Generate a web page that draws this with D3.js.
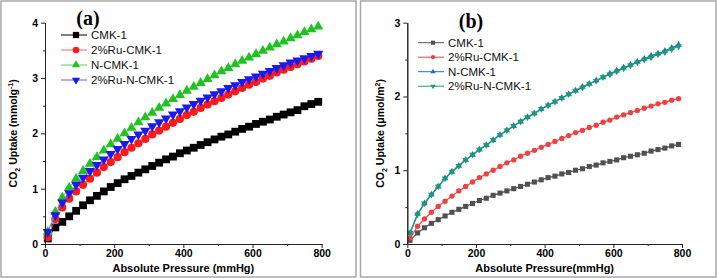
<!DOCTYPE html>
<html lang="en">
<head>
	<meta charset="UTF-8">
	<title>co2 uptake</title>
	<style>
		body { margin: 0; background: #fff; }
	</style>
</head>
<body>
	<svg id="cont" width="717" height="278" style="font-family: 'Liberation Sans', Arial, sans-serif"></svg>
</body>
<script src="https://cdn.jsdelivr.net/npm/d3@7"></script>
<script>
	// pressure points (mmHg), same for every series
	let pressure = [8, 30, 50, 70, 90, 110, 130, 150, 170, 190, 210, 230, 250, 270, 290, 310, 330, 350, 370, 390,
		410, 430, 450, 470, 490, 510, 530, 550, 570, 590, 610, 630, 650, 670, 690, 710, 730, 750, 770, 790];

	let names = ["CMK-1", "2%Ru-CMK-1", "N-CMK-1", "2%Ru-N-CMK-1"];

	// panel (a), mmol/g
	let cmkA = [0.10, 0.30, 0.40, 0.50, 0.60, 0.70, 0.79, 0.87, 0.95, 1.03, 1.10, 1.17, 1.23, 1.29, 1.35, 1.41, 1.47, 1.53, 1.58, 1.64,
		1.69, 1.74, 1.79, 1.84, 1.89, 1.94, 1.98, 2.03, 2.08, 2.12, 2.17, 2.21, 2.25, 2.30, 2.34, 2.38, 2.42, 2.49, 2.53, 2.57];
	let ruCmkA = [0.12, 0.45, 0.66, 0.82, 0.95, 1.07, 1.18, 1.29, 1.39, 1.48, 1.57, 1.66, 1.74, 1.82, 1.90, 1.98, 2.05, 2.12, 2.19, 2.26,
		2.33, 2.39, 2.46, 2.52, 2.58, 2.64, 2.70, 2.76, 2.82, 2.88, 2.93, 2.99, 3.04, 3.10, 3.15, 3.20, 3.25, 3.30, 3.35, 3.40];
	let nCmkA = [0.22, 0.58, 0.84, 1.02, 1.18, 1.32, 1.45, 1.57, 1.69, 1.80, 1.90, 2.00, 2.10, 2.20, 2.29, 2.37, 2.46, 2.54, 2.62, 2.69,
		2.77, 2.84, 2.91, 2.98, 3.05, 3.12, 3.18, 3.25, 3.31, 3.37, 3.43, 3.49, 3.55, 3.61, 3.66, 3.72, 3.77, 3.83, 3.88, 3.93];
	let ruNCmkA = [0.22, 0.52, 0.75, 0.92, 1.07, 1.20, 1.32, 1.43, 1.53, 1.63, 1.72, 1.81, 1.90, 1.98, 2.05, 2.13, 2.20, 2.27, 2.34, 2.40,
		2.47, 2.53, 2.59, 2.65, 2.71, 2.76, 2.82, 2.87, 2.93, 2.98, 3.03, 3.08, 3.13, 3.18, 3.23, 3.28, 3.32, 3.36, 3.40, 3.44];

	// panel (b), umol/m2
	let cmkB = [0.05, 0.15, 0.22, 0.28, 0.33, 0.38, 0.43, 0.47, 0.51, 0.55, 0.59, 0.62, 0.66, 0.69, 0.72, 0.75, 0.78, 0.81, 0.84, 0.87,
		0.90, 0.92, 0.95, 0.97, 1.00, 1.02, 1.05, 1.07, 1.10, 1.12, 1.14, 1.17, 1.19, 1.21, 1.23, 1.26, 1.28, 1.30, 1.33, 1.35];
	let ruCmkB = [0.08, 0.24, 0.34, 0.43, 0.51, 0.58, 0.65, 0.72, 0.78, 0.84, 0.90, 0.95, 1.00, 1.05, 1.10, 1.14, 1.19, 1.23, 1.27, 1.31,
		1.35, 1.39, 1.43, 1.47, 1.51, 1.54, 1.58, 1.61, 1.65, 1.68, 1.72, 1.75, 1.78, 1.81, 1.84, 1.87, 1.90, 1.92, 1.95, 1.97];
	let nCmkB = [0.15, 0.41, 0.55, 0.67, 0.78, 0.89, 0.98, 1.06, 1.14, 1.21, 1.28, 1.34, 1.41, 1.48, 1.54, 1.60, 1.66, 1.72, 1.77, 1.83,
		1.88, 1.93, 1.98, 2.03, 2.08, 2.13, 2.17, 2.22, 2.26, 2.31, 2.35, 2.39, 2.43, 2.47, 2.51, 2.55, 2.58, 2.62, 2.66, 2.70];
	let ruNCmkB = [0.15, 0.40, 0.55, 0.67, 0.78, 0.89, 0.98, 1.06, 1.14, 1.21, 1.28, 1.34, 1.41, 1.48, 1.54, 1.60, 1.66, 1.72, 1.77, 1.83,
		1.88, 1.93, 1.98, 2.03, 2.08, 2.12, 2.17, 2.21, 2.26, 2.30, 2.34, 2.38, 2.42, 2.46, 2.50, 2.53, 2.57, 2.60, 2.64, 2.68];

	let xTicks = [0, 200, 400, 600, 800];
	let yTicksA = [0, 1, 2, 3, 4];
	let yTicksB = [0, 1, 2, 3];

	let svg = d3.select("#cont");

	// grey frames round each panel
	svg.append("rect").attr("x", 1).attr("y", 1).attr("width", 355).attr("height", 276)
		.attr("fill", "none").attr("stroke", "#a8a8a8").attr("stroke-width", 1.5);
	svg.append("rect").attr("x", 360.5).attr("y", 1).attr("width", 355.5).attr("height", 276)
		.attr("fill", "none").attr("stroke", "#a8a8a8").attr("stroke-width", 1.5);

	drawPanel({
		left: 45, right: 321.7, top: 22.7, bottom: 244,
		ymax: 4, yticks: yTicksA,
		series: [cmkA, ruCmkA, nCmkA, ruNCmkA],
		colors: ["#000000", "#ff1a1a", "#1fc21f", "#1a1aee"],
		lineColors: ["#000000", "#ff6060", "#60d060", "#6060ff"],
		shapes: ["square", "circle", "up", "down"],
		msize: 1.15, lineW: 0.8,
		label: "(a)", labelX: 88, labelY: 25,
		legX: 61, legY: 35, legStep: 15,
		xTitle: "Absolute Pressure (mmHg)", titleX: 17,
		unit: "a"
	});
	drawPanel({
		left: 407.3, right: 682, top: 22.7, bottom: 244,
		ymax: 3, yticks: yTicksB,
		series: [cmkB, ruCmkB, nCmkB, ruNCmkB],
		colors: ["#505050", "#f14040", "#1a6fdf", "#1d9a70"],
		lineColors: ["#505050", "#f14040", "#1a6fdf", "#1d9a70"],
		shapes: ["square", "circle", "up", "down"],
		msize: 0.75, lineW: 1.2,
		label: "(b)", labelX: 471, labelY: 28,
		legX: 418, legY: 42.7, legStep: 14.5,
		xTitle: "Absolute Pressure(mmHg)", titleX: 384,
		unit: "b"
	});

	function symbolFor(shape, k)
	{
		if (shape == "square") return d3.symbol(d3.symbolSquare, 46 * k * k)();
		if (shape == "circle") return d3.symbol(d3.symbolCircle, 40 * k * k)();
		return d3.symbol(d3.symbolTriangle, 34 * k * k)();
	}

	function drawPanel(p)
	{
		let g = svg.append("g");
		let x = d3.scaleLinear().domain([0, 800]).range([p.left, p.right]);
		let y = d3.scaleLinear().domain([0, p.ymax]).range([p.bottom, p.top]);

		// series: line + markers
		p.series.forEach((vals, i) => {
			let pts = pressure.map((d, j) => [d, vals[j]]);
			let line = d3.line().x(d => x(d[0])).y(d => y(d[1]));
			g.append("path").attr("d", line(pts))
				.attr("fill", "none").attr("stroke", p.lineColors[i]).attr("stroke-width", p.lineW);
			g.selectAll(null).data(pts).enter()
				.append("path")
				.attr("d", symbolFor(p.shapes[i], p.msize))
				.attr("transform", d => "translate(" + x(d[0]) + "," + y(d[1]) + ")" + (p.shapes[i] == "down" ? " rotate(180)" : ""))
				.attr("fill", p.colors[i]);
		});

		// axes
		let fmt = d3.format("d");
		let xaxis = d3.axisBottom(x).tickValues(xTicks).tickFormat(fmt).tickSize(4).tickSizeOuter(0).tickPadding(2);
		let xminor = d3.axisBottom(x).tickValues([100, 300, 500, 700]).tickSize(2).tickFormat("").tickSizeOuter(0);
		let yaxis = d3.axisLeft(y).tickValues(p.yticks).tickFormat(fmt).tickSize(4).tickSizeOuter(0).tickPadding(3);
		let yminor = d3.axisLeft(y).tickValues(p.yticks.slice(0, -1).map(d => d + 0.5)).tickSize(2).tickFormat("").tickSizeOuter(0);

		[xaxis, xminor].forEach(a => {
			g.append("g").attr("transform", "translate(0," + p.bottom + ")").call(a);
		});
		[yaxis, yminor].forEach(a => {
			g.append("g").attr("transform", "translate(" + p.left + ",0)").call(a);
		});
		g.selectAll(".domain, .tick line").attr("stroke", "#222").attr("stroke-width", 1);
		g.selectAll(".tick text").attr("font-family", "Liberation Sans, Arial, sans-serif")
			.attr("font-size", 10.5).attr("font-weight", "bold").attr("fill", "#000");

		// axis titles
		g.append("text")
			.attr("x", (p.left + p.right) / 2).attr("y", 272)
			.attr("text-anchor", "middle").attr("font-size", 11).attr("font-weight", "bold")
			.text(p.xTitle);

		let yt = g.append("text")
			.attr("transform", "translate(" + p.titleX + "," + ((p.top + p.bottom) / 2) + ") rotate(-90)")
			.attr("text-anchor", "middle").attr("font-size", 10.5).attr("font-weight", "bold");
		yt.append("tspan").text("CO");
		yt.append("tspan").attr("font-size", 7).attr("dy", 3).text("2");
		if (p.unit == "a") {
			yt.append("tspan").attr("dy", -3).text(" Uptake (mmolg");
			yt.append("tspan").attr("font-size", 7).attr("dy", -4).text("-1");
			yt.append("tspan").attr("dy", 4).text(")");
		} else {
			yt.append("tspan").attr("dy", -3).text(" Uptake (\u03bcmol/m");
			yt.append("tspan").attr("font-size", 7).attr("dy", -4).text("2");
			yt.append("tspan").attr("dy", 4).text(")");
		}

		// panel label
		g.append("text").attr("x", p.labelX).attr("y", p.labelY)
			.attr("text-anchor", "middle").style("font-family", "'Liberation Serif', 'Times New Roman', serif")
			.attr("font-size", 20).attr("font-weight", "bold").text(p.label);

		// legend
		let leg = g.selectAll(".leg").data(names).enter().append("g")
			.attr("transform", (d, i) => "translate(" + p.legX + "," + (p.legY + i * p.legStep) + ")");
		leg.append("line").attr("x1", 0).attr("x2", 26).attr("y1", 0).attr("y2", 0)
			.attr("stroke", (d, i) => p.lineColors[i]).attr("stroke-width", 1);
		leg.append("path")
			.attr("d", (d, i) => symbolFor(p.shapes[i], p.msize * 0.8))
			.attr("transform", (d, i) => "translate(15,0)" + (p.shapes[i] == "down" ? " rotate(180)" : ""))
			.attr("fill", (d, i) => p.colors[i]);
		leg.append("text").attr("x", 30).attr("y", 0).attr("dy", "0.35em")
			.attr("font-size", 11.5).attr("fill", "#111").text(d => d);
	}
</script>
</html>
